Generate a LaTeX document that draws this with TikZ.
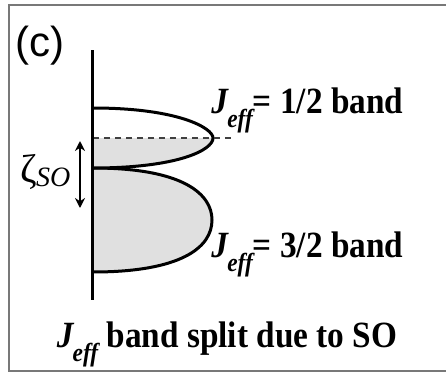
\documentclass[tikz,border=0pt]{standalone}
\usepackage{fontspec}
\setmainfont{Liberation Serif}
\newfontfamily\panelfont{Liberation Sans}
\newfontfamily\condfont[FakeStretch=0.9]{Liberation Serif}
\usepackage{tikz}
\usetikzlibrary{arrows.meta, positioning, calc}
\definecolor{framegray}{RGB}{120,120,120}
\definecolor{bandfill}{RGB}{224,224,224}
\tikzset{
  framebox/.style={draw=framegray,line width=1.1pt},
  axisline/.style={line width=1.5pt,black},
  bandline/.style={line width=1.5pt,black},
  bandarea/.style={fill=bandfill},
  fermiline/.style={line width=0.7pt,black!75,dash pattern=on 3pt off 2.5pt},
  gaparr/.style={{Stealth[length=5pt,width=5pt]}-{Stealth[length=5pt,width=5pt]},line width=0.9pt},
  bandlabel/.style={font=\condfont\fontsize{18.5}{20}\selectfont\bfseries,inner sep=0pt},
  paneltag/.style={font=\fontsize{21}{23}\selectfont\panelfont,inner sep=0pt}
}
\newcommand{\Jeff}{\textit{J\kern-0.02em\raisebox{-0.4em}{\fontsize{13}{13}\selectfont eff}}}

\begin{document}
\begin{tikzpicture}[x=0.5pt,y=-0.5pt]
  \useasboundingbox (0,0) rectangle (446,376);
  %% frame
  \draw[framebox] (446,5) -- (9,5) -- (9,371) -- (446,371);

  %% axis
  \coordinate (axtop) at (93,50);
  \coordinate (axbot) at (93,300);

  %% J=3/2 band
  \path[bandarea] (93,168) .. controls (185,168) and (212,195) .. (212,220)
    .. controls (212,248) and (180,272) .. (93,272) -- cycle;
  \draw[bandline] (93,168) .. controls (185,168) and (212,195) .. (212,220)
    .. controls (212,248) and (180,272) .. (93,272);

  %% J=1/2 band, filled up to the dashed line
  \begin{scope}
    \clip (93,138) rectangle (240,172);
    \path[bandarea] (93,108) .. controls (178,108) and (213,128) .. (213,138)
      .. controls (213,150) and (178,168) .. (93,168) -- cycle;
  \end{scope}
  \draw[bandline] (93,108) .. controls (178,108) and (213,128) .. (213,138)
    .. controls (213,150) and (178,168) .. (93,168);

  \coordinate (fermiL) at (93,138);
  \coordinate (fermiR) at (233,138);
  \draw[fermiline] (fermiL) -- (fermiR);

  \draw[axisline] (axtop) -- (axbot);

  %% splitting
  \coordinate (gaptop) at (80,141);
  \coordinate (gapbot) at (80,208);
  \draw[gaparr] (gaptop) -- (gapbot);
  \node[font=\fontsize{20}{22}\selectfont,inner sep=0pt,anchor=base west] (zeta) at (20,182)
    {ζ\kern-0.02em\raisebox{-0.12em}{\fontsize{14}{14}\selectfont\itshape SO}};

  %% labels
  \node[paneltag,anchor=base west] (tag) at (15,56) {(c)};
  \node[bandlabel,anchor=base west] (half) at (211,113) {\Jeff= 1/2 band};
  \node[bandlabel,anchor=base west] (threehalf) at (211,257) {\Jeff= 3/2 band};
  \node[bandlabel,anchor=base] (caption) at (227,347) {\Jeff\ band split due to SO};
\end{tikzpicture}
\end{document}
